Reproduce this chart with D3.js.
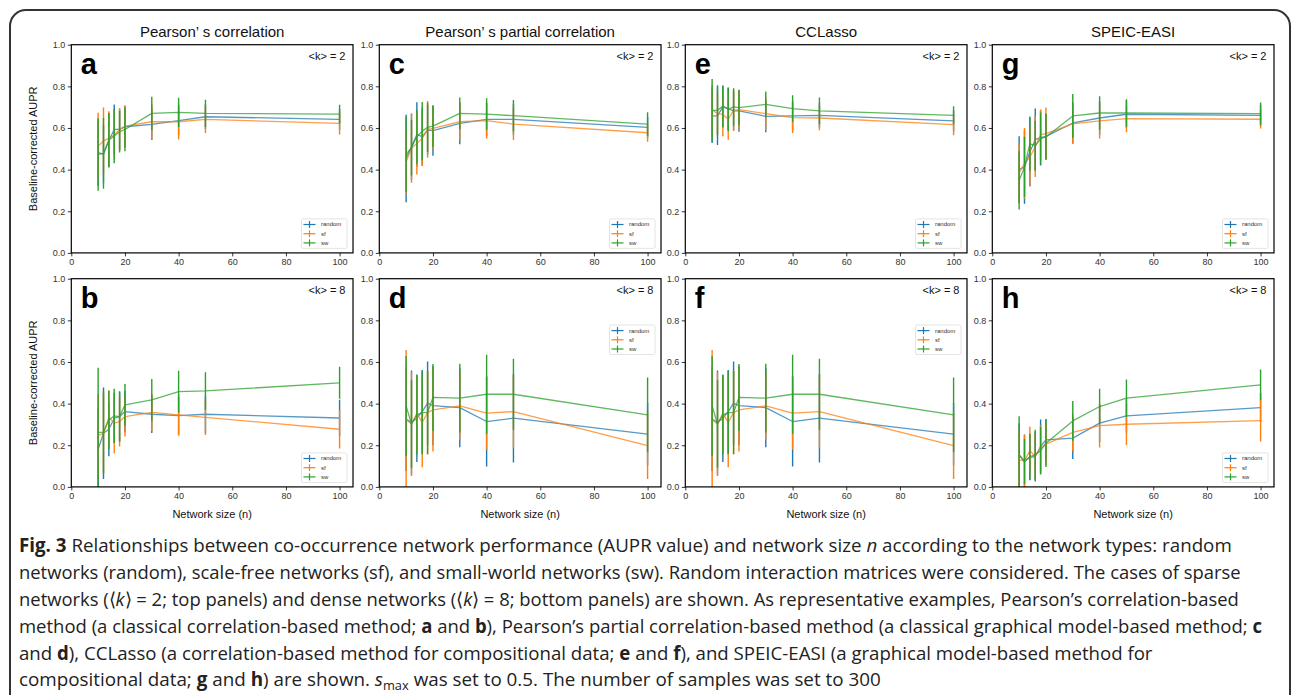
<!DOCTYPE html>
<html>
<head>
<meta charset="utf-8">
<script src="https://cdn.jsdelivr.net/npm/d3@7"></script>
<style>
body { margin: 0; background: #fff; }
</style>
</head>
<body>
<svg id="fig"></svg>
<script>
var svg_width = 1292, svg_height = 695;

// network sizes and ticks
var sizes = [10, 12, 14, 16, 18, 20, 30, 40, 50, 100];
var xTicks = [0, 20, 40, 60, 80, 100];
var yTicks = [0, 0.2, 0.4, 0.6, 0.8, 1.0];
var seriesNames = ["random", "sf", "sw"];
var seriesColors = ["#1f77b4", "#ff7f0e", "#2ca02c"];

// a: Pearson, <k> = 2
var aRandom = [0.482, 0.474, 0.54, 0.593, 0.593, 0.606, 0.617, 0.635, 0.654, 0.641];
var aRandomErr = [0.16, 0.14, 0.13, 0.12, 0.10, 0.10, 0.075, 0.07, 0.06, 0.05];
var aSf = [0.513, 0.538, 0.55, 0.566, 0.593, 0.609, 0.63, 0.63, 0.641, 0.622];
var aSfErr = [0.16, 0.16, 0.13, 0.12, 0.10, 0.10, 0.085, 0.085, 0.065, 0.053];
var aSw = [0.473, 0.478, 0.542, 0.561, 0.582, 0.593, 0.67, 0.675, 0.67, 0.667];
var aSwErr = [0.174, 0.17, 0.13, 0.13, 0.10, 0.105, 0.08, 0.07, 0.065, 0.045];

// b: Pearson, <k> = 8
var bRandom = [0.18, 0.258, 0.277, 0.33, 0.338, 0.362, 0.349, 0.342, 0.349, 0.331];
var bRandomErr = [0.2, 0.22, 0.13, 0.12, 0.12, 0.10, 0.09, 0.09, 0.09, 0.087];
var bSf = [0.246, 0.258, 0.334, 0.306, 0.314, 0.338, 0.358, 0.346, 0.334, 0.277];
var bSfErr = [0.2, 0.19, 0.13, 0.145, 0.12, 0.096, 0.09, 0.10, 0.085, 0.093];
var bSw = [0.262, 0.262, 0.322, 0.341, 0.338, 0.394, 0.418, 0.458, 0.461, 0.50];
var bSwErr = [0.31, 0.2, 0.14, 0.13, 0.12, 0.10, 0.10, 0.10, 0.09, 0.077];

// c: partial correlation, <k> = 2
var cRandom = [0.453, 0.51, 0.569, 0.558, 0.59, 0.587, 0.622, 0.641, 0.641, 0.603];
var cRandomErr = [0.21, 0.16, 0.155, 0.14, 0.12, 0.12, 0.10, 0.08, 0.075, 0.05];
var cSf = [0.438, 0.502, 0.526, 0.55, 0.593, 0.598, 0.63, 0.635, 0.619, 0.577];
var cSfErr = [0.153, 0.165, 0.15, 0.13, 0.136, 0.10, 0.09, 0.085, 0.077, 0.043];
var cSw = [0.474, 0.505, 0.558, 0.585, 0.603, 0.609, 0.67, 0.667, 0.659, 0.619];
var cSwErr = [0.18, 0.133, 0.13, 0.14, 0.118, 0.10, 0.076, 0.076, 0.075, 0.056];

// d: partial correlation, <k> = 8
var dRandom = [0.326, 0.309, 0.33, 0.362, 0.402, 0.39, 0.381, 0.314, 0.33, 0.253];
var dRandomErr = [0.25, 0.25, 0.21, 0.2, 0.2, 0.19, 0.19, 0.216, 0.213, 0.15];
var dSf = [0.322, 0.302, 0.354, 0.309, 0.357, 0.37, 0.389, 0.354, 0.362, 0.198];
var dSfErr = [0.336, 0.25, 0.18, 0.215, 0.20, 0.2, 0.163, 0.176, 0.176, 0.16];
var dSw = [0.389, 0.302, 0.346, 0.357, 0.357, 0.43, 0.426, 0.445, 0.445, 0.346];
var dSwErr = [0.24, 0.21, 0.19, 0.2, 0.2, 0.16, 0.165, 0.19, 0.17, 0.18];

// e: CCLasso, <k> = 2
var eRandom = [0.658, 0.658, 0.701, 0.693, 0.682, 0.682, 0.656, 0.658, 0.661, 0.634];
var eRandomErr = [0.13, 0.14, 0.1, 0.1, 0.093, 0.1, 0.076, 0.07, 0.06, 0.05];
var eSf = [0.688, 0.669, 0.665, 0.642, 0.685, 0.688, 0.669, 0.65, 0.648, 0.616];
var eSfErr = [0.12, 0.1, 0.105, 0.098, 0.1, 0.096, 0.08, 0.074, 0.059, 0.051];
var eSw = [0.685, 0.685, 0.705, 0.69, 0.701, 0.698, 0.713, 0.693, 0.682, 0.661];
var eSwErr = [0.15, 0.12, 0.1, 0.105, 0.09, 0.085, 0.062, 0.064, 0.064, 0.043];

// f: CCLasso, <k> = 8 (same curves as d in the figure)
var fRandom = [0.326, 0.309, 0.33, 0.362, 0.402, 0.39, 0.381, 0.314, 0.33, 0.253];
var fRandomErr = [0.25, 0.25, 0.21, 0.2, 0.2, 0.19, 0.19, 0.216, 0.213, 0.15];
var fSf = [0.322, 0.302, 0.354, 0.309, 0.357, 0.37, 0.389, 0.354, 0.362, 0.198];
var fSfErr = [0.336, 0.25, 0.18, 0.215, 0.20, 0.2, 0.163, 0.176, 0.176, 0.16];
var fSw = [0.389, 0.302, 0.346, 0.357, 0.357, 0.43, 0.426, 0.445, 0.445, 0.346];
var fSwErr = [0.24, 0.21, 0.19, 0.2, 0.2, 0.16, 0.165, 0.19, 0.17, 0.18];

// g: SPEIC-EASI, <k> = 2
var gRandom = [0.40, 0.413, 0.485, 0.544, 0.554, 0.56, 0.624, 0.648, 0.666, 0.661];
var gRandomErr = [0.16, 0.177, 0.165, 0.15, 0.134, 0.11, 0.1, 0.08, 0.066, 0.05];
var gSf = [0.385, 0.43, 0.46, 0.51, 0.568, 0.573, 0.62, 0.634, 0.645, 0.642];
var gSfErr = [0.14, 0.17, 0.14, 0.146, 0.12, 0.125, 0.092, 0.085, 0.065, 0.045];
var gSw = [0.348, 0.413, 0.525, 0.514, 0.549, 0.557, 0.658, 0.672, 0.672, 0.669];
var gSwErr = [0.14, 0.145, 0.13, 0.12, 0.125, 0.11, 0.105, 0.08, 0.066, 0.053];

// h: SPEIC-EASI, <k> = 8
var hRandom = [0.154, 0.122, 0.142, 0.146, 0.194, 0.226, 0.234, 0.306, 0.341, 0.381];
var hRandomErr = [0.15, 0.13, 0.11, 0.12, 0.13, 0.1, 0.1, 0.09, 0.08, 0.07];
var hSf = [0.13, 0.125, 0.174, 0.146, 0.186, 0.205, 0.262, 0.294, 0.301, 0.318];
var hSfErr = [0.15, 0.125, 0.115, 0.11, 0.11, 0.1, 0.09, 0.105, 0.1, 0.1];
var hSw = [0.154, 0.122, 0.146, 0.154, 0.174, 0.21, 0.317, 0.386, 0.426, 0.49];
var hSwErr = [0.185, 0.108, 0.11, 0.12, 0.115, 0.114, 0.095, 0.085, 0.09, 0.074];

var titles = ["Pearson\u2019 s correlation", "Pearson\u2019 s partial correlation", "CCLasso", "SPEIC-EASI"];

var captionLines = [
	[["Fig. 3", "b"], [" Relationships between co-occurrence network performance (AUPR value) and network size "], ["n", "i"], [" according to the network types: random"]],
	[["networks (random), scale-free networks (sf), and small-world networks (sw). Random interaction matrices were considered. The cases of sparse"]],
	[["networks (\u27e8"], ["k", "i"], ["\u27e9 = 2; top panels) and dense networks (\u27e8"], ["k", "i"], ["\u27e9 = 8; bottom panels) are shown. As representative examples, Pearson\u2019s correlation-based"]],
	[["method (a classical correlation-based method; "], ["a", "b"], [" and "], ["b", "b"], ["), Pearson\u2019s partial correlation-based method (a classical graphical model-based method; "], ["c", "b"]],
	[["and "], ["d", "b"], ["), CCLasso (a correlation-based method for compositional data; "], ["e", "b"], [" and "], ["f", "b"], ["), and SPEIC-EASI (a graphical model-based method for"]],
	[["compositional data; "], ["g", "b"], [" and "], ["h", "b"], [") are shown. "], ["s", "i"], ["max", "sub"], [" was set to 0.5. The number of samples was set to 300"]]
];
var captionEnds = [1233, 1241, 1239, 1263, 1153, 881];

// layout
var colLeft = [71.3, 379.3, 685.3, 992.3];
var rowTop = [44.7, 278.7];
var pw = 281.7, ph = 208.2;

var panels = [
	{ id: "a", col: 0, row: 0, k: 2, data: [aRandom, aSf, aSw], err: [aRandomErr, aSfErr, aSwErr], legend: "lower" },
	{ id: "b", col: 0, row: 1, k: 8, data: [bRandom, bSf, bSw], err: [bRandomErr, bSfErr, bSwErr], legend: "lower" },
	{ id: "c", col: 1, row: 0, k: 2, data: [cRandom, cSf, cSw], err: [cRandomErr, cSfErr, cSwErr], legend: "lower" },
	{ id: "d", col: 1, row: 1, k: 8, data: [dRandom, dSf, dSw], err: [dRandomErr, dSfErr, dSwErr], legend: "upper" },
	{ id: "e", col: 2, row: 0, k: 2, data: [eRandom, eSf, eSw], err: [eRandomErr, eSfErr, eSwErr], legend: "lower" },
	{ id: "f", col: 2, row: 1, k: 8, data: [fRandom, fSf, fSw], err: [fRandomErr, fSfErr, fSwErr], legend: "upper" },
	{ id: "g", col: 3, row: 0, k: 2, data: [gRandom, gSf, gSw], err: [gRandomErr, gSfErr, gSwErr], legend: "lower" },
	{ id: "h", col: 3, row: 1, k: 8, data: [hRandom, hSf, hSw], err: [hRandomErr, hSfErr, hSwErr], legend: "lower" }
];

var svg = d3.select("#fig")
	.attr("width", svg_width)
	.attr("height", svg_height)
	.style("font-family", "'Liberation Sans', Arial, sans-serif");

svg.append("rect")
	.attr("width", svg_width).attr("height", svg_height)
	.attr("fill", "#fff");

// outer rounded frame
svg.append("rect")
	.attr("x", 10).attr("y", 10)
	.attr("width", 1280).attr("height", 740)
	.attr("rx", 16)
	.attr("fill", "none")
	.attr("stroke", "#333")
	.attr("stroke-width", 2);

var x = d3.scaleLinear().domain([0, 105]).range([0, pw]);
var y = d3.scaleLinear().domain([0, 1]).range([ph, 0]);

var line = d3.line()
	.x(function (d) { return x(d[0]); })
	.y(function (d) { return y(d[1]); });

panels.forEach(function (p) {
	var left = colLeft[p.col], top = rowTop[p.row];
	var g = svg.append("g").attr("transform", "translate(" + left + "," + top + ")");

	g.append("clipPath").attr("id", "clip-" + p.id)
		.append("rect").attr("width", pw).attr("height", ph);

	// axes
	var xa = g.append("g")
		.attr("transform", "translate(0," + ph + ")")
		.call(d3.axisBottom(x).tickValues(xTicks).tickSize(3.5).tickPadding(2.5));
	var ya = g.append("g")
		.call(d3.axisLeft(y).tickValues(yTicks).tickFormat(d3.format(".1f")).tickSize(3.5).tickPadding(2.5));
	[xa, ya].forEach(function (a) {
		a.select(".domain").remove();
		a.selectAll("line").attr("stroke", "#000").attr("stroke-width", 0.8);
		a.selectAll("text").attr("fill", "#333").style("font-size", "9px")
			.style("font-family", "'Liberation Sans', Arial, sans-serif");
	});

	// series
	var plot = g.append("g").attr("clip-path", "url(#clip-" + p.id + ")");
	p.data.forEach(function (vals, si) {
		var errs = p.err[si];
		var color = seriesColors[si];
		var pts = sizes.map(function (s, i) { return [s, vals[i], errs[i]]; });
		var sg = plot.append("g");
		sg.selectAll("line.err")
			.data(pts)
			.enter().append("line")
			.attr("class", "err")
			.attr("x1", function (d) { return x(d[0]); })
			.attr("x2", function (d) { return x(d[0]); })
			.attr("y1", function (d) { return y(d[1] - d[2]); })
			.attr("y2", function (d) { return y(d[1] + d[2]); })
			.attr("stroke", color)
			.attr("stroke-width", 1.4);
		sg.append("path")
			.datum(pts)
			.attr("fill", "none")
			.attr("stroke", color)
			.attr("stroke-opacity", 0.75)
			.attr("stroke-width", 1.3)
			.attr("stroke-linejoin", "round")
			.attr("d", line);
	});

	// frame
	g.append("rect")
		.attr("width", pw).attr("height", ph)
		.attr("fill", "none")
		.attr("stroke", "#000")
		.attr("stroke-width", 1.2);

	// panel letter
	g.append("text")
		.attr("x", 9.5).attr("y", 29.5)
		.style("font-size", "29px").style("font-weight", "bold")
		.attr("fill", "#000")
		.text(p.id);

	// <k> label
	g.append("text")
		.attr("x", pw - 7.5).attr("y", 15)
		.attr("text-anchor", "end")
		.style("font-size", "11px")
		.attr("fill", "#111")
		.text("<k> = " + p.k);

	// legend
	var lw = 45.5, lh = 29.5;
	var lx = pw - 6 - lw;
	var ly = p.legend == "upper" ? 46.3 : ph - 4.5 - lh;
	var lg = g.append("g").attr("transform", "translate(" + lx + "," + ly + ")");
	lg.append("rect")
		.attr("width", lw).attr("height", lh)
		.attr("rx", 1.5)
		.attr("fill", "#fff").attr("fill-opacity", 0.85)
		.attr("stroke", "#ddd").attr("stroke-width", 0.8);
	seriesNames.forEach(function (name, si) {
		var ry = 5.6 + si * 9.2;
		lg.append("line")
			.attr("x1", 2).attr("x2", 14).attr("y1", ry).attr("y2", ry)
			.attr("stroke", seriesColors[si]).attr("stroke-width", 1.2);
		lg.append("line")
			.attr("x1", 8).attr("x2", 8).attr("y1", ry - 3.5).attr("y2", ry + 3.5)
			.attr("stroke", seriesColors[si]).attr("stroke-width", 1.2);
		lg.append("text")
			.attr("x", 19.5).attr("y", ry + 2)
			.style("font-size", "6px")
			.attr("fill", "#333")
			.text(name);
	});

	// titles and axis labels
	if (p.row == 0) {
		g.append("text")
			.attr("x", pw / 2).attr("y", -7.5)
			.attr("text-anchor", "middle")
			.style("font-size", "15px")
			.attr("fill", "#111")
			.text(titles[p.col]);
	} else {
		g.append("text")
			.attr("x", pw / 2).attr("y", ph + 31)
			.attr("text-anchor", "middle")
			.style("font-size", "11px")
			.attr("fill", "#111")
			.text("Network size (n)");
	}
	if (p.col == 0) {
		g.append("text")
			.attr("transform", "translate(" + (37 - left) + "," + (ph / 2) + ") rotate(-90)")
			.attr("text-anchor", "middle")
			.style("font-size", "11px")
			.attr("fill", "#111")
			.text("Baseline-corrected AUPR");
	}
});

// caption: each line squeezed horizontally to the width it has in the figure
var capX = 19, capY0 = 552.3, capStep = 26.8;
captionLines.forEach(function (segs, li) {
	var t = svg.append("text")
		.attr("x", 0)
		.attr("y", 0)
		.style("font-family", "'Open Sans', 'Noto Sans', sans-serif")
		.style("font-size", "19px")
		.attr("fill", "#222");
	var shifted = false;
	segs.forEach(function (s) {
		var ts = t.append("tspan").text(s[0]);
		if (s[1] == "b") ts.style("font-weight", "bold");
		if (s[1] == "i") ts.style("font-style", "italic");
		if (s[1] == "sub") {
			ts.style("font-size", "13px").attr("dy", 4);
			shifted = true;
		} else if (shifted) {
			ts.attr("dy", -4);
			shifted = false;
		}
	});
	var natural = t.node().getComputedTextLength();
	var sx = (captionEnds[li] - capX) / natural;
	t.attr("transform", "translate(" + capX + "," + (capY0 + li * capStep) + ") scale(" + sx + ",1)");
});
</script>
</body>
</html>
